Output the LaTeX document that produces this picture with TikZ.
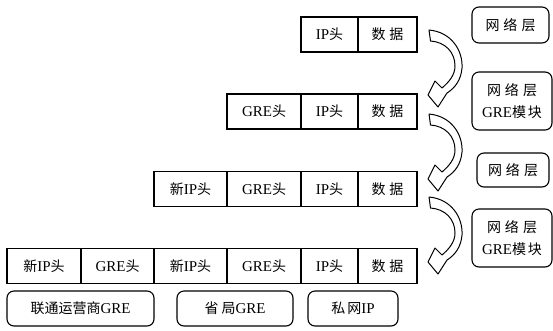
\documentclass[tikz,border=0pt]{standalone}
\usepackage{fontspec}
\setmainfont{Liberation Serif}
\newfontfamily\cjk{Noto Sans CJK SC}
\newcommand{\zh}[1]{{\cjk\fontsize{14}{22}\selectfont #1}}
\newcommand{\ks}[1]{\hspace{#1pt}}
\begin{document}
\begin{tikzpicture}[x=1pt,y=-1pt,line width=1.1pt,
  cell/.style={draw, rectangle, inner sep=0pt, minimum height=35pt, font=\fontsize{15}{22}\selectfont},
  rbox/.style={draw, rounded corners=7pt, inner sep=0pt, align=center, font=\fontsize{15}{22}\selectfont},
  arrowshape/.style={draw, fill=white, line width=1pt, line join=round}]
\useasboundingbox (0,0) rectangle (553,330);
% row 1
\node[cell, minimum width=57pt] (a5) at (329.5,34.5) {IP\zh{头}};
\node[cell, minimum width=59pt] (a6) at (387.5,34.5) {\zh{数\ks{4}据}};
% row 2
\node[cell, minimum width=74pt] (b4) at (264,111.5) {GRE\zh{头}};
\node[cell, minimum width=57pt] (b5) at (329.5,111.5) {IP\zh{头}};
\node[cell, minimum width=59pt] (b6) at (387.5,111.5) {\zh{数\ks{4}据}};
% row 3
\node[cell, minimum width=73pt] (c3) at (190.5,189) {\zh{新}IP\zh{头}};
\node[cell, minimum width=74pt] (c4) at (264,189) {GRE\zh{头}};
\node[cell, minimum width=57pt] (c5) at (329.5,189) {IP\zh{头}};
\node[cell, minimum width=59pt] (c6) at (387.5,189) {\zh{数\ks{4}据}};
% row 4
\node[cell, minimum width=74pt] (d1) at (44,266) {\zh{新}IP\zh{头}};
\node[cell, minimum width=73pt] (d2) at (117.5,266) {GRE\zh{头}};
\node[cell, minimum width=73pt] (d3) at (190.5,266) {\zh{新}IP\zh{头}};
\node[cell, minimum width=74pt] (d4) at (264,266) {GRE\zh{头}};
\node[cell, minimum width=57pt] (d5) at (329.5,266) {IP\zh{头}};
\node[cell, minimum width=59pt] (d6) at (387.5,266) {\zh{数\ks{4}据}};
% bottom labels
\node[rbox, minimum width=147pt, minimum height=35pt] (l1) at (80.5,308.5) {\zh{联通运营商}GRE};
\node[rbox, minimum width=116pt, minimum height=35pt] (l2) at (235,308.5) {\zh{省\ks{3}局}GRE};
\node[rbox, minimum width=90pt, minimum height=35pt] (l3) at (353,308.5) {\zh{私\ks{2}网}IP};
% right boxes
\node[rbox, minimum width=77pt, minimum height=36pt] (r1) at (510.5,25) {\zh{网\ks{4}络\ks{4}层}};
\node[rbox, minimum width=80pt, minimum height=58pt] (r2) at (512,101) {\zh{网\ks{4}络\ks{4}层}\\GRE\zh{模\ks{2}块}};
\node[rbox, minimum width=72pt, minimum height=34pt] (r3) at (513,170) {\zh{网\ks{4}络\ks{4}层}};
\node[rbox, minimum width=80pt, minimum height=58pt] (r4) at (512,238) {\zh{网\ks{4}络\ks{4}层}\\GRE\zh{模\ks{2}块}};
% curved arrows
\foreach \yy in {30,114,197}{
  \draw[arrowshape, shift={(429,\yy)}]
    (0,0) .. controls (22,2) and (34,20) .. (33,38)
          .. controls (32,50) and (26,58) .. (18,63)
    -- (9,77) -- (-1,65) -- (6,51) -- (13,58)
          .. controls (20,52) and (26,45) .. (26,36)
          .. controls (26,22) and (16,12) .. (1.5,11) -- cycle;
}
\end{tikzpicture}
\end{document}
